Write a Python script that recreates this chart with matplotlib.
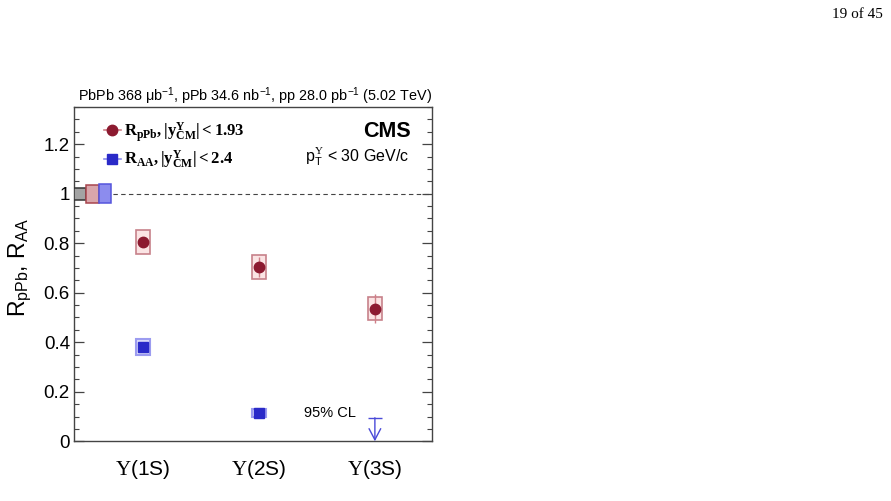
import matplotlib
matplotlib.use("Agg")
import matplotlib.pyplot as plt
from matplotlib.patches import Rectangle
from matplotlib.lines import Line2D
import numpy as np

plt.rcParams['font.family'] = ['Liberation Sans', 'DejaVu Sans']
plt.rcParams['mathtext.fontset'] = 'custom'
plt.rcParams['mathtext.rm'] = 'Liberation Sans'
plt.rcParams['mathtext.it'] = 'Liberation Sans:italic'
plt.rcParams['mathtext.bf'] = 'Liberation Serif:bold'
plt.rcParams['mathtext.cal'] = 'Liberation Serif'

# ---- data ----
states = [r'$\mathcal{\Upsilon}$(1S)', r'$\mathcal{\Upsilon}$(2S)', r'$\mathcal{\Upsilon}$(3S)']
xpos = [1, 2, 3]
rppb = [0.805, 0.704, 0.536]
rppb_stat = [0.012, 0.042, 0.059]
rppb_syst = [0.049, 0.050, 0.045]
raa = [0.381, 0.115]
raa_stat = [0.008, 0.008]
raa_syst = [0.034, 0.017]
raa_3s_limit = 0.095
glob_unc = [0.024, 0.037, 0.039]   # pp, pPb, PbPb
yticks = [0, 0.2, 0.4, 0.6, 0.8, 1.0, 1.2]
ytick_labels = ['0', '0.2', '0.4', '0.6', '0.8', '1', '1.2']

# ---- style ----
c_ppb = '#8c1a30'
c_ppb_line = '#cf7f88'
c_ppb_box_fc = '#fbe4e4'
c_ppb_box_ec = '#c7818a'
c_aa = '#2a2ac8'
c_aa_line = '#8a8aee'
c_aa_box_fc = '#dcdcfa'
c_aa_box_ec = '#9c9cf0'
hw = 0.058

fig = plt.figure(figsize=(8.91, 5.01), dpi=100)
ax = fig.add_axes([0.0831, 0.1192, 0.4014, 0.6672])
xmin, xmax = 0.405, 3.49
ax.set_xlim(xmin, xmax)
ax.set_ylim(0, 1.35)

# reference line
ax.axhline(1.0, color='#444444', lw=0.8, dashes=(4, 3), zorder=1)

# global uncertainty boxes
gcols = [('#a3a3a3', '#333333'), ('#d9a6ab', '#a8454e'), ('#8c8cee', '#5555dd')]
gw = 0.107
for i, (u, (fc, ec)) in enumerate(zip(glob_unc, gcols)):
    ax.add_patch(Rectangle((xmin + i * gw, 1 - u), gw, 2 * u, fc=fc, ec=ec, lw=1.1, zorder=3))

# RpPb
for x, v, st, sy in zip(xpos, rppb, rppb_stat, rppb_syst):
    ax.add_patch(Rectangle((x - hw, v - sy), 2 * hw, 2 * sy, fc=c_ppb_box_fc, ec=c_ppb_box_ec, lw=1.2, zorder=2))
ax.errorbar(xpos, rppb, yerr=rppb_stat, fmt='o', color=c_ppb, ecolor=c_ppb_line,
            elinewidth=1.0, capsize=0, ms=7.5, zorder=4)

# RAA
for x, v, sy in zip(xpos[:2], raa, raa_syst):
    ax.add_patch(Rectangle((x - hw, v - sy), 2 * hw, 2 * sy, fc=c_aa_box_fc, ec=c_aa_box_ec, lw=1.5, zorder=2))
ax.errorbar(xpos[:2], raa, yerr=raa_stat, fmt='s', color=c_aa, ecolor=c_aa_line,
            elinewidth=1.0, capsize=0, ms=6.5, zorder=4)

# upper limit for 3S RAA
ax.hlines(raa_3s_limit, xpos[2] - hw, xpos[2] + hw, color='#4a4ad8', lw=1.0, zorder=4)
ax.annotate('', xy=(xpos[2], 0.0), xytext=(xpos[2], raa_3s_limit),
            arrowprops=dict(arrowstyle='->,head_length=0.8,head_width=0.42',
                            color='#4a4ad8', lw=1.0, shrinkA=0, shrinkB=0), zorder=4)
ax.text(2.835, 0.113, '95% CL', fontsize=10.5, ha='right', va='center')

# axes style
for s in ax.spines.values():
    s.set_color('#444444')
    s.set_linewidth(1.0)
ax.set_yticks(yticks)
ax.set_yticklabels(ytick_labels)
ax.set_yticks(np.arange(0, 1.351, 0.05), minor=True)
ax.tick_params(axis='y', which='major', direction='in', length=7.5, width=0.9,
               left=True, right=True, labelsize=13.5, pad=3, colors='#444444', labelcolor='black')
ax.tick_params(axis='y', which='minor', direction='in', length=3.8, width=0.8,
               left=True, right=True, colors='#444444')
ax.set_xticks(xpos)
ax.set_xticklabels(states)
ax.tick_params(axis='x', which='both', length=0, labelsize=15, pad=12)

ax.set_ylabel(r'R$_{\mathrm{pPb}}$, R$_{\mathrm{AA}}$', fontsize=16.5)
ax.yaxis.set_label_coords(-0.112, 0.52)

# legend
h1 = Line2D([], [], color=c_ppb_line, marker='o', mfc=c_ppb, mec=c_ppb, ms=7.5, lw=1.2)
h2 = Line2D([], [], color=c_aa_line, marker='s', mfc=c_aa, mec=c_aa, ms=6.5, lw=1.2)
leg = ax.legend([h1, h2],
                [r'$\mathbf{R_{pPb}, |y^{\Upsilon}_{CM}| < 1.93}$',
                 r'$\mathbf{R_{AA}, |y^{\Upsilon}_{CM}| < 2.4}$'],
                loc='upper left', bbox_to_anchor=(0.065, 0.981), frameon=False,
                handlelength=1.0, handletextpad=0.2, labelspacing=0.3, fontsize=12,
                borderaxespad=0)

ax.text(0.942, 0.926, 'CMS', transform=ax.transAxes, fontsize=15.5, fontweight='bold',
        ha='right', va='center')
ax.text(0.937, 0.85, r'p$_{\mathrm{T}}^{\mathcal{\Upsilon}}$ < 30 GeV/c', transform=ax.transAxes,
        fontsize=11.5, ha='right', va='center')

ax.text(1.0, 1.0165, 'PbPb 368 \u03bcb$^{-1}$, pPb 34.6 nb$^{-1}$, '
        'pp 28.0 pb$^{-1}$ (5.02 TeV)', transform=ax.transAxes,
        fontsize=10.4, ha='right', va='baseline')

fig.text(0.991, 0.972, '19 of 45', fontsize=11, ha='right', va='center',
         family=['Liberation Serif', 'DejaVu Serif'])

fig.savefig('out.png', dpi=100)
